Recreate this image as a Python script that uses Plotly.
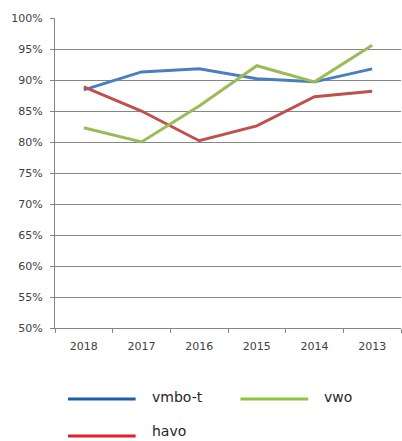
import plotly.graph_objects as go

years = ["2018", "2017", "2016", "2015", "2014", "2013"]
vmbo_t = [88.4, 91.3, 91.8, 90.2, 89.7, 91.8]
havo = [88.9, 85.0, 80.2, 82.6, 87.3, 88.2]
vwo = [82.3, 80.0, 85.8, 92.3, 89.7, 95.6]

series = [
    ("vmbo-t", vmbo_t, "#4a7ebf", "#1f5cac"),
    ("havo", havo, "#c0504d", "#e0202a"),
    ("vwo", vwo, "#9bbb59", "#8cc63f"),
]

fig = go.Figure()
for name, vals, col, _ in series:
    fig.add_trace(go.Scatter(x=years, y=vals, mode="lines", name=name,
                             line=dict(color=col, width=3), showlegend=False))

# legend drawn manually (long line keys): x0, x1, text x, line y, text y
legend_pos = {"vmbo-t": (0.0375, 0.233, 0.274, -0.229, -0.222),
              "vwo": (0.536, 0.732, 0.772, -0.229, -0.222),
              "havo": (0.0375, 0.233, 0.274, -0.348, -0.332)}
for name, vals, col, lcol in series:
    x0, x1, tx, y, ty = legend_pos[name]
    fig.add_shape(type="line", xref="paper", yref="paper", x0=x0, x1=x1, y0=y, y1=y,
                  line=dict(color=lcol, width=3))
    fig.add_annotation(xref="paper", yref="paper", x=tx, y=ty, text=name, showarrow=False,
                       xanchor="left", yanchor="middle",
                       font=dict(size=14, color="#262626", family="DejaVu Sans"))

fig.update_layout(
    width=402, height=441,
    margin=dict(l=55, r=1, t=18, b=113),
    paper_bgcolor="white", plot_bgcolor="white",
    font=dict(family="DejaVu Sans", size=11, color="#404040"),
    xaxis=dict(type="category", range=[-0.5, 5.5], showgrid=False,
               showline=True, linecolor="#868686", linewidth=1,
               ticks="outside", tickson="boundaries", ticklen=4, tickcolor="#868686",
               ticklabelstandoff=8,
               tickfont=dict(size=11, color="#404040")),
    yaxis=dict(range=[50, 100], dtick=5, ticksuffix="%", showgrid=True,
               gridcolor="#868686", gridwidth=1,
               showline=True, linecolor="#868686", linewidth=1,
               ticks="outside", ticklen=4, tickcolor="#868686",
               ticklabelstandoff=5,
               tickfont=dict(size=11, color="#404040"), zeroline=False),
)

fig.write_html("out.html", config={"displayModeBar": False},
               post_script="document.body.style.margin='0';document.body.style.overflow='hidden';")
